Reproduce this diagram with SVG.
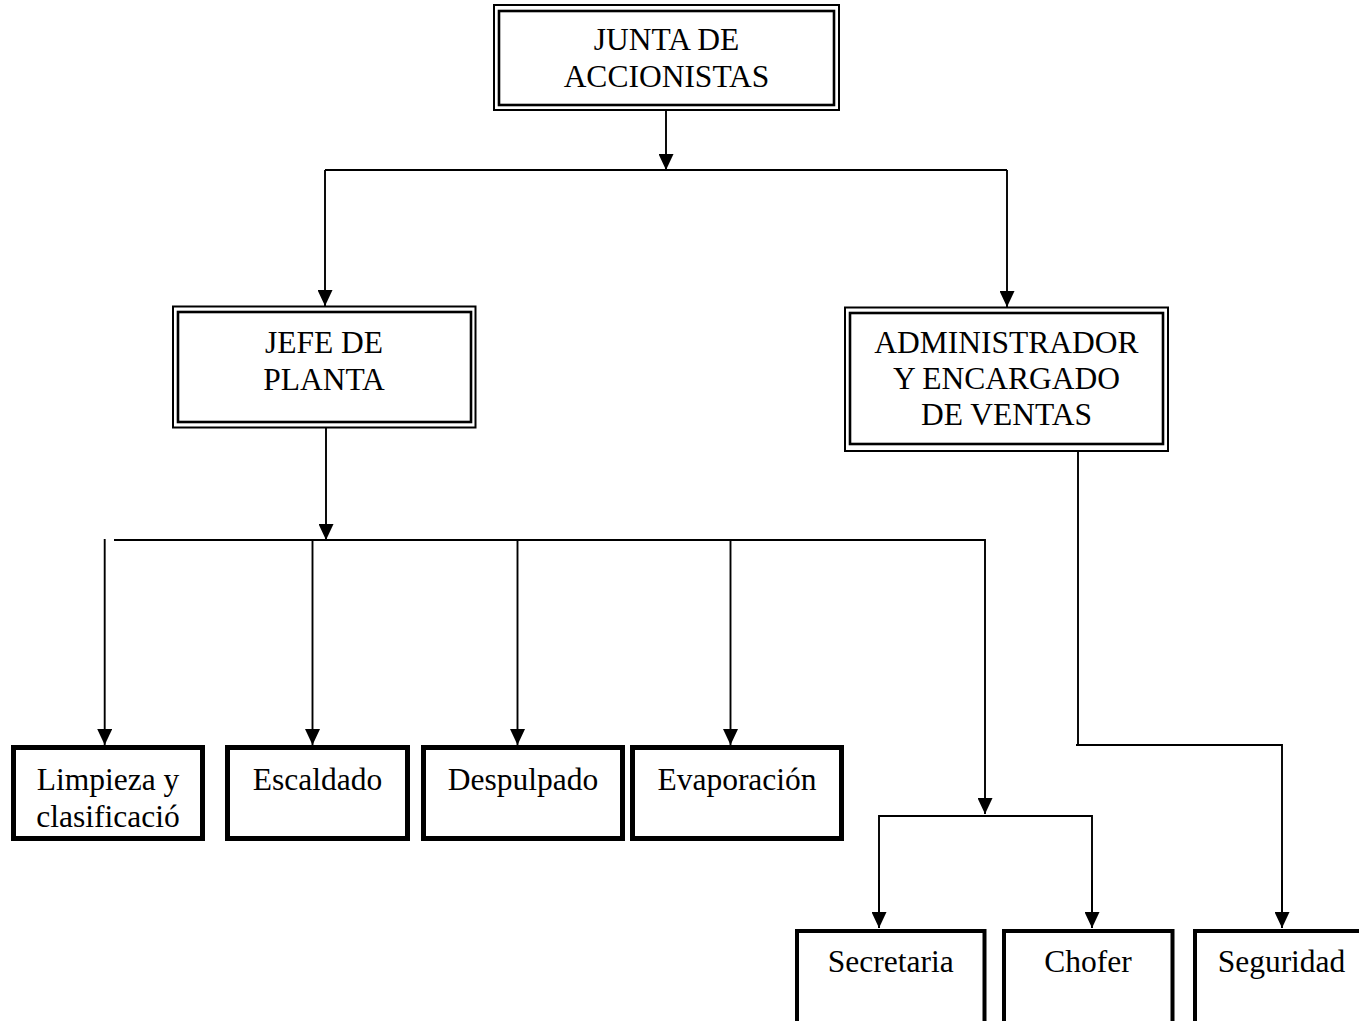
<svg xmlns="http://www.w3.org/2000/svg" width="1359" height="1021" viewBox="0 0 1359 1021">
<style>
.t{font-family:"Liberation Serif","Times New Roman",serif;font-size:31.5px;fill:#000;text-anchor:middle}
.o{fill:none;stroke:#000;stroke-width:2}
.i{fill:none;stroke:#000;stroke-width:2.6}
.b5{fill:none;stroke:#000;stroke-width:5}
.b4{fill:none;stroke:#000;stroke-width:4}
.c{fill:none;stroke:#000;stroke-width:1.9}
</style>
<defs>
<marker id="ah" viewBox="0 0 16 15" refX="16" refY="7.5" markerWidth="16" markerHeight="15" markerUnits="userSpaceOnUse" orient="auto">
<path d="M0,0 L16,7.5 L0,15 Z" fill="#000"/>
</marker>
</defs>
<rect width="1359" height="1021" fill="#fff"/>
<g id="connectors">
<path class="c" d="M666,110 V170" marker-end="url(#ah)"/>
<path class="c" d="M325,170 H1007"/>
<path class="c" d="M325,170 V306" marker-end="url(#ah)"/>
<path class="c" d="M1007,170 V307" marker-end="url(#ah)"/>
<path class="c" d="M326,428 V540" marker-end="url(#ah)"/>
<path class="c" d="M114,540 H985 V814" marker-end="url(#ah)"/>
<path class="c" d="M104.7,539 V745" marker-end="url(#ah)"/>
<path class="c" d="M312.5,540 V745" marker-end="url(#ah)"/>
<path class="c" d="M517.5,540 V745" marker-end="url(#ah)"/>
<path class="c" d="M730.5,540 V745" marker-end="url(#ah)"/>
<path class="c" d="M879,928 V816 H1092 V928" />
<path class="c" d="M879,880 V928" marker-end="url(#ah)"/>
<path class="c" d="M1092,880 V928" marker-end="url(#ah)"/>
<path class="c" d="M1078,451 V745 M1076,745 H1282 V928" />
<path class="c" d="M1282,880 V928" marker-end="url(#ah)"/>
</g>
<g id="junta">
<rect class="o" x="494" y="5" width="345" height="105"/>
<rect class="i" x="499" y="11" width="335" height="94"/>
<text class="t" x="666.5" y="50">JUNTA DE</text>
<text class="t" x="666.5" y="87">ACCIONISTAS</text>
</g>
<g id="jefe">
<rect class="o" x="173" y="306.5" width="302.5" height="121"/>
<rect class="i" x="178" y="312" width="293" height="110"/>
<text class="t" x="324" y="353">JEFE DE</text>
<text class="t" x="324" y="390">PLANTA</text>
</g>
<g id="admin">
<rect class="o" x="845" y="307.5" width="323" height="143.5"/>
<rect class="i" x="850" y="313" width="313" height="131"/>
<text class="t" x="1006.5" y="353">ADMINISTRADOR</text>
<text class="t" x="1006.5" y="389">Y ENCARGADO</text>
<text class="t" x="1006.5" y="425">DE VENTAS</text>
</g>
<g id="limpieza">
<rect class="b5" x="13.5" y="747.5" width="189" height="91"/>
<text class="t" x="108" y="790">Limpieza y</text>
<text class="t" x="108" y="827">clasificació</text>
</g>
<g id="escaldado">
<rect class="b5" x="227.5" y="747.5" width="180" height="91"/>
<text class="t" x="317.5" y="790">Escaldado</text>
</g>
<g id="despulpado">
<rect class="b5" x="423.5" y="747.5" width="199" height="91"/>
<text class="t" x="523" y="790">Despulpado</text>
</g>
<g id="evaporacion">
<rect class="b5" x="632.5" y="747.5" width="209" height="91"/>
<text class="t" x="737" y="790">Evaporación</text>
</g>
<g id="secretaria">
<rect class="b4" x="797" y="931" width="187.5" height="110"/>
<text class="t" x="890.7" y="972">Secretaria</text>
</g>
<g id="chofer">
<rect class="b4" x="1004" y="931" width="168.5" height="110"/>
<text class="t" x="1088" y="972">Chofer</text>
</g>
<g id="seguridad">
<rect class="b4" x="1195" y="931" width="173" height="110"/>
<text class="t" x="1281.5" y="972">Seguridad</text>
</g>
</svg>
